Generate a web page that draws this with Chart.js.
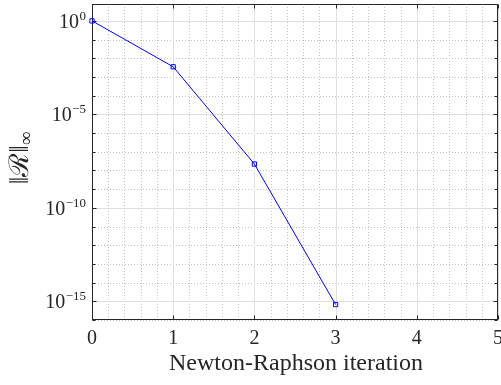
<!DOCTYPE html>
<html>
<head>
<meta charset="utf-8">
<script src="https://cdn.jsdelivr.net/npm/chart.js@4.4.0/dist/chart.umd.min.js"></script>
<style>
  body { margin: 0; background: #fff; }
  canvas { display: block; }
</style>
</head>
<body>
<canvas id="grafico" width="501" height="385"></canvas>
<script>
// dados
const iteracoes = [0, 1, 2, 3];
const residuos = [1, 3.5e-3, 2.2e-8, 6.7e-16];
const xTicks = [0, 1, 2, 3, 4, 5];
const yExpoentes = [0, -5, -10, -15];
const tituloX = "Newton-Raphson iteration";

const fonte = '"Liberation Serif", "DejaVu Serif", serif';

const eixosMatlab = {
  id: 'eixosMatlab',
  beforeDatasetsDraw(chart) {
    const { ctx, chartArea: a, scales: { x, y } } = chart;
    ctx.save();
    ctx.lineWidth = 1;
    // grade menor pontilhada
    ctx.strokeStyle = '#c4c4c4';
    ctx.setLineDash([1, 2]);
    for (let v = 0; v <= 5.0001; v += 0.2) {
      if (Math.abs(v - Math.round(v)) < 1e-6) continue;
      const px = Math.round(x.getPixelForValue(v)) + 0.5;
      ctx.beginPath(); ctx.moveTo(px, a.top); ctx.lineTo(px, a.bottom); ctx.stroke();
    }
    for (let e = -16; e <= 0; e++) {
      if (e % 5 === 0) continue;
      const py = Math.round(y.getPixelForValue(Math.pow(10, e))) + 0.5;
      ctx.beginPath(); ctx.moveTo(a.left, py); ctx.lineTo(a.right, py); ctx.stroke();
    }
    // grade maior
    ctx.setLineDash([]);
    ctx.strokeStyle = '#e0e0e0';
    xTicks.forEach(v => {
      const px = Math.round(x.getPixelForValue(v)) + 0.5;
      ctx.beginPath(); ctx.moveTo(px, a.top); ctx.lineTo(px, a.bottom); ctx.stroke();
    });
    yExpoentes.forEach(e => {
      const py = Math.round(y.getPixelForValue(Math.pow(10, e))) + 0.5;
      ctx.beginPath(); ctx.moveTo(a.left, py); ctx.lineTo(a.right, py); ctx.stroke();
    });
    // moldura e marcas
    ctx.strokeStyle = '#262626';
    const L = Math.round(a.left) + 0.5, R = Math.round(a.right) - 0.5;
    const T = Math.round(a.top) + 0.5, B = Math.round(a.bottom) - 0.5;
    ctx.strokeRect(L, T, R - L, B - T);
    ctx.beginPath();
    xTicks.forEach(v => {
      const px = Math.round(x.getPixelForValue(v)) + 0.5;
      ctx.moveTo(px, B); ctx.lineTo(px, B - 4);
      ctx.moveTo(px, T); ctx.lineTo(px, T + 4);
    });
    for (let e = -16; e <= 0; e++) {
      const py = Math.round(y.getPixelForValue(Math.pow(10, e))) + 0.5;
      const len = e % 5 === 0 ? 4 : 3;
      ctx.moveTo(L, py); ctx.lineTo(L + len, py);
      ctx.moveTo(R, py); ctx.lineTo(R - len, py);
    }
    ctx.stroke();
    ctx.restore();
  },
  afterDatasetsDraw(chart) {
    const { ctx, chartArea: a, scales: { x, y } } = chart;
    ctx.save();

    // rotulos x
    ctx.fillStyle = '#262626';
    ctx.font = '20px ' + fonte;
    ctx.textAlign = 'center';
    ctx.textBaseline = 'middle';
    xTicks.forEach(v => ctx.fillText(String(v), x.getPixelForValue(v), 339));

    // rotulos y com expoente
    yExpoentes.forEach(e => {
      const py = y.getPixelForValue(Math.pow(10, e));
      const exp = e === 0 ? '0' : '\u2212' + Math.abs(e);
      ctx.font = '13px ' + fonte;
      const wExp = ctx.measureText(exp).width;
      ctx.textAlign = 'left';
      ctx.textBaseline = 'alphabetic';
      const xr = 86;
      ctx.fillText(exp, xr - wExp, py - 1);
      ctx.font = '20px ' + fonte;
      const wBase = ctx.measureText('10').width;
      ctx.fillText('10', xr - wExp - wBase - 0.5, py + 7);
    });

    // titulo x
    ctx.font = '24px ' + fonte;
    ctx.textAlign = 'center';
    ctx.textBaseline = 'middle';
    ctx.fillText(tituloX, 296, 364);

    // titulo y: ||R||_inf
    ctx.translate(21, 158);
    ctx.rotate(-Math.PI / 2);
    ctx.font = '27px ' + fonte;
    ctx.textAlign = 'left';
    ctx.textBaseline = 'middle';
    const t1 = '\u2016\u211B\u2016';
    const w1 = ctx.measureText(t1).width;
    ctx.font = '19px ' + fonte;
    const w2 = ctx.measureText('\u221E').width;
    const x0 = -(w1 + w2) / 2;
    ctx.font = '27px ' + fonte;
    ctx.fillText(t1, x0, 0);
    ctx.font = '19px ' + fonte;
    ctx.fillText('\u221E', x0 + w1, 6);
    ctx.restore();
  }
};

new Chart(document.getElementById('grafico'), {
  type: 'line',
  data: {
    datasets: [{
      data: iteracoes.map((it, i) => ({ x: it, y: residuos[i] })),
      borderColor: '#0000ff',
      borderWidth: 1,
      pointStyle: 'rect',
      pointRadius: 3,
      pointBorderWidth: 1,
      pointBorderColor: '#0000ff',
      pointBackgroundColor: 'rgba(0,0,0,0)',
      tension: 0,
      clip: false
    }]
  },
  options: {
    responsive: false,
    animation: false,
    events: [],
    layout: { autoPadding: false, padding: { top: 4, right: 3, left: 0, bottom: 0 } },
    plugins: { legend: { display: false }, tooltip: { enabled: false } },
    scales: {
      x: {
        type: 'linear', min: 0, max: 5,
        grid: { display: false }, border: { display: false },
        ticks: { display: false },
        afterFit: s => { s.height = 65; }
      },
      y: {
        type: 'logarithmic', min: 1e-16, max: 8,
        grid: { display: false }, border: { display: false },
        ticks: { display: false },
        afterFit: s => { s.width = 92; }
      }
    }
  },
  plugins: [eixosMatlab]
});
</script>
</body>
</html>
